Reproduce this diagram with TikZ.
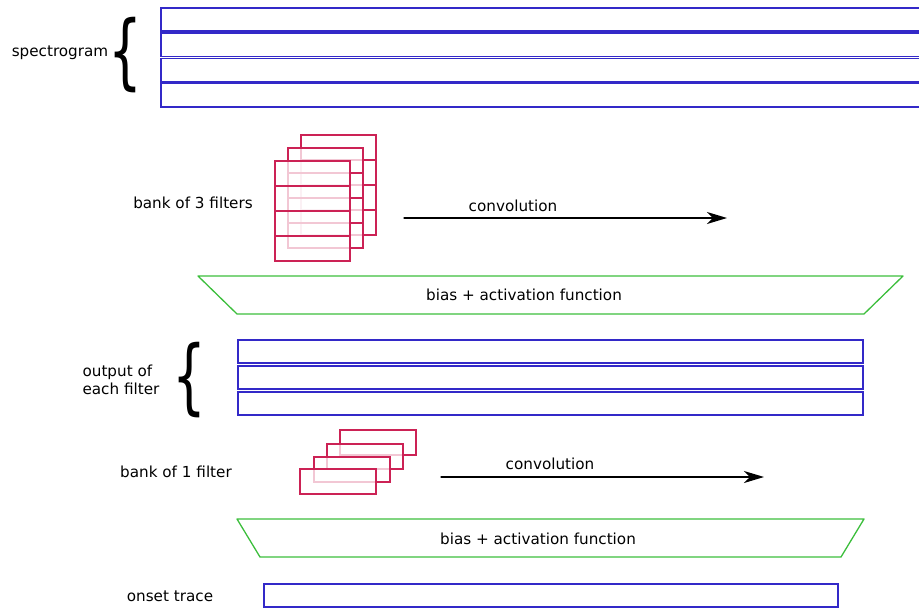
\documentclass[tikz,border=0pt]{standalone}
\usepackage{fontspec}
\setmainfont{DejaVu Sans}
\usetikzlibrary{arrows.meta}

\definecolor{specblue}{RGB}{51,41,200}
\definecolor{filterred}{RGB}{204,34,85}
\definecolor{actgreen}{RGB}{60,190,60}

\tikzset{
	txt/.style={font=\fontsize{15.2}{18}\selectfont, inner sep=0pt},
	bigbrace/.style={font=\fontsize{82}{82}\selectfont, inner sep=0pt},
	row/.style={draw=specblue, line width=1.8pt},
	kernel/.style={draw=filterred, line width=1.7pt, fill=white, fill opacity=0.75},
	act/.style={draw=actgreen, line width=1.3pt, line join=round},
	conv/.style={-{Stealth[length=20pt, width=12pt, inset=6pt]}, line width=1.3pt},
}

% one filter = four stacked rows, given its top left corner
\newcommand{\filterstack}[2]{%
	\foreach \r in {0,...,3}
		\draw[kernel] (#1,{#2+25*\r}) rectangle ++(75,25);
}

\begin{document}
\begin{tikzpicture}[x=1pt, y=-1pt, line cap=round]
	
	% Define bounding box (pixel units, y pointing down)
	\def\xmin{0} \def\xmax{919}
	\def\ymin{0} \def\ymax{608}
	\useasboundingbox (\xmin,\ymin) rectangle (\xmax,\ymax);
	\clip (\xmin,\ymin) rectangle (\xmax,\ymax);
	
	% Spectrogram rows
	\draw[row] (161,8) rectangle (930,31.3);
	\draw[row] (161,32.8) rectangle (930,56.5);
	\draw[row] (161,58.5) rectangle (930,81.8);
	\draw[row] (161,83.3) rectangle (930,107);
	\node[txt] (spec) at (60,53) {spectrogram};
	\node[bigbrace] (specbrace) at (125,55) {\scalebox{0.65}[1]{\{}};
	
	% Bank of 3 filters, back to front
	\filterstack{301}{135}
	\filterstack{288}{148}
	\filterstack{275}{161}
	\node[txt] (bank3) at (193,203) {bank of 3 filters};
	
	% First convolution
	\coordinate (conva) at (404,218);
	\coordinate (convb) at (727,218);
	\draw[conv] (conva) -- (convb);
	\node[txt] (conv1) at (513,206) {convolution};
	
	% First bias + activation
	\draw[act] (198,276) -- (903,276) -- (864,314) -- (237,314) -- cycle;
	\node[txt] (act1) at (524,295) {bias + activation function};
	
	% Output of each filter
	\draw[row] (238,340) rectangle (863,363);
	\draw[row] (238,366) rectangle (863,389);
	\draw[row] (238,392) rectangle (863,415);
	\node[txt, align=left] (outlabel) at (121,380) {output of\\each filter};
	\node[bigbrace] (outbrace) at (189,380) {\scalebox{0.65}[1]{\{}};
	
	% Bank of 1 filter
	\foreach \dx/\dy in {40/430, 27/444, 14/457, 0/469}
		\draw[kernel] (300+\dx,\dy) rectangle ++(76,25);
	\node[txt] (bank1) at (176,472) {bank of 1 filter};
	
	% Second convolution
	\coordinate (convc) at (441,477);
	\coordinate (convd) at (764,477);
	\draw[conv] (convc) -- (convd);
	\node[txt] (conv2) at (550,464) {convolution};
	
	% Second bias + activation
	\draw[act] (237,519) -- (864,519) -- (841,557) -- (260,557) -- cycle;
	\node[txt] (act2) at (538,539) {bias + activation function};
	
	% Onset trace
	\draw[row] (264,584) rectangle (838,607);
	\node[txt] (onset) at (170,596) {onset trace};
	
\end{tikzpicture}
\end{document}
